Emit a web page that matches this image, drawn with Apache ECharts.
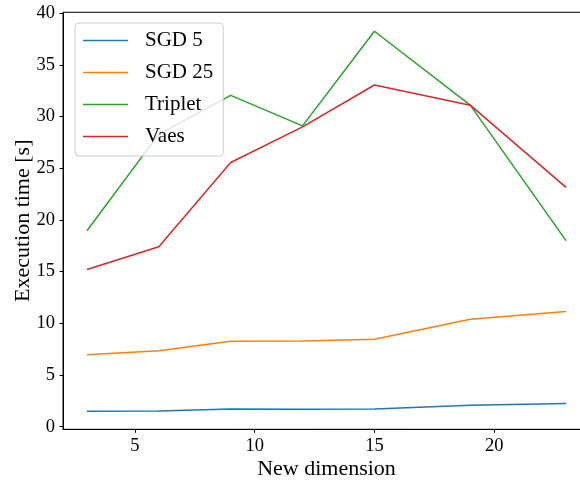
<!DOCTYPE html>
<html>
<head>
<meta charset="utf-8">
<script src="https://cdn.jsdelivr.net/npm/echarts@6/dist/echarts.min.js"></script>
<style>
html,body{margin:0;padding:0;background:#fff;}
#chart{width:580px;height:480px;}
</style>
</head>
<body>
<div id="chart"></div>
<script>
const dims = [3, 6, 9, 12, 15, 19, 23];
const sgd5 = [1.5, 1.52, 1.72, 1.68, 1.72, 2.08, 2.25];
const sgd25 = [6.95, 7.35, 8.27, 8.3, 8.45, 10.4, 11.15];
const triplet = [18.95, 28.3, 32.05, 29.1, 38.25, 31.1, 18.0];
const vaes = [15.2, 17.4, 25.55, 29.0, 33.05, 31.1, 23.15];
const seriesNames = ['SGD 5', 'SGD 25', 'Triplet', 'Vaes'];
const colors = ['#1f77b4', '#ff7f0e', '#2ca02c', '#d62728'];
const xTicks = [5, 10, 15, 20];
const yTicks = [0, 5, 10, 15, 20, 25, 30, 35, 40];

const FONT = 'Liberation Serif';
const allData = [sgd5, sgd25, triplet, vaes];

const chart = echarts.init(document.getElementById('chart'), null, {renderer: 'canvas'});
chart.setOption({
  animation: false,
  backgroundColor: '#fff',
  grid: {left: 63, right: -10, top: 12.3, bottom: 50.7, show: true, borderColor: '#000', borderWidth: 1,
         containLabel: false, outerBoundsMode: 'none'},
  legend: {
    orient: 'vertical', left: 75, top: 23, z: 10,
    padding: [7, 10, 9, 8],
    itemWidth: 45, itemHeight: 1.5, itemGap: 11,
    icon: 'rect',
    backgroundColor: 'rgba(255,255,255,0.8)',
    borderColor: '#cccccc', borderWidth: 1, borderRadius: 4,
    textStyle: {fontFamily: FONT, fontSize: 21, color: '#000', lineHeight: 20, padding: [0, 0, 0, 12]},
    data: seriesNames
  },
  xAxis: {
    type: 'value', min: 2, max: 24,
    name: 'New dimension', nameLocation: 'middle', nameGap: 29, nameMoveOverlap: false,
    nameTextStyle: {fontFamily: FONT, fontSize: 22, color: '#000'},
    axisLine: {show: true, onZero: false, lineStyle: {color: '#000', width: 1}},
    axisTick: {show: true, length: 3.5, customValues: xTicks, lineStyle: {color: '#000'}},
    axisLabel: {customValues: xTicks, fontFamily: FONT, fontSize: 18.5, color: '#000', margin: 7},
    splitLine: {show: false}
  },
  yAxis: {
    type: 'value', min: -0.25, max: 40.08,
    name: 'Execution time [s]', nameLocation: 'middle', nameGap: 29, nameRotate: 90, nameMoveOverlap: false,
    nameTextStyle: {fontFamily: FONT, fontSize: 22, color: '#000'},
    axisLine: {show: true, onZero: false, lineStyle: {color: '#000', width: 1}},
    axisTick: {show: true, length: 3.5, customValues: yTicks, lineStyle: {color: '#000'}},
    axisLabel: {customValues: yTicks, fontFamily: FONT, fontSize: 18.5, color: '#000', margin: 8},
    splitLine: {show: false}
  },
  series: seriesNames.map((n, i) => ({
    name: n, type: 'line', showSymbol: false, symbol: 'none',
    data: dims.map((d, j) => [d, allData[i][j]]),
    lineStyle: {color: colors[i], width: 1.5},
    itemStyle: {color: colors[i]},
    z: 2
  }))
});
</script>
</body>
</html>
